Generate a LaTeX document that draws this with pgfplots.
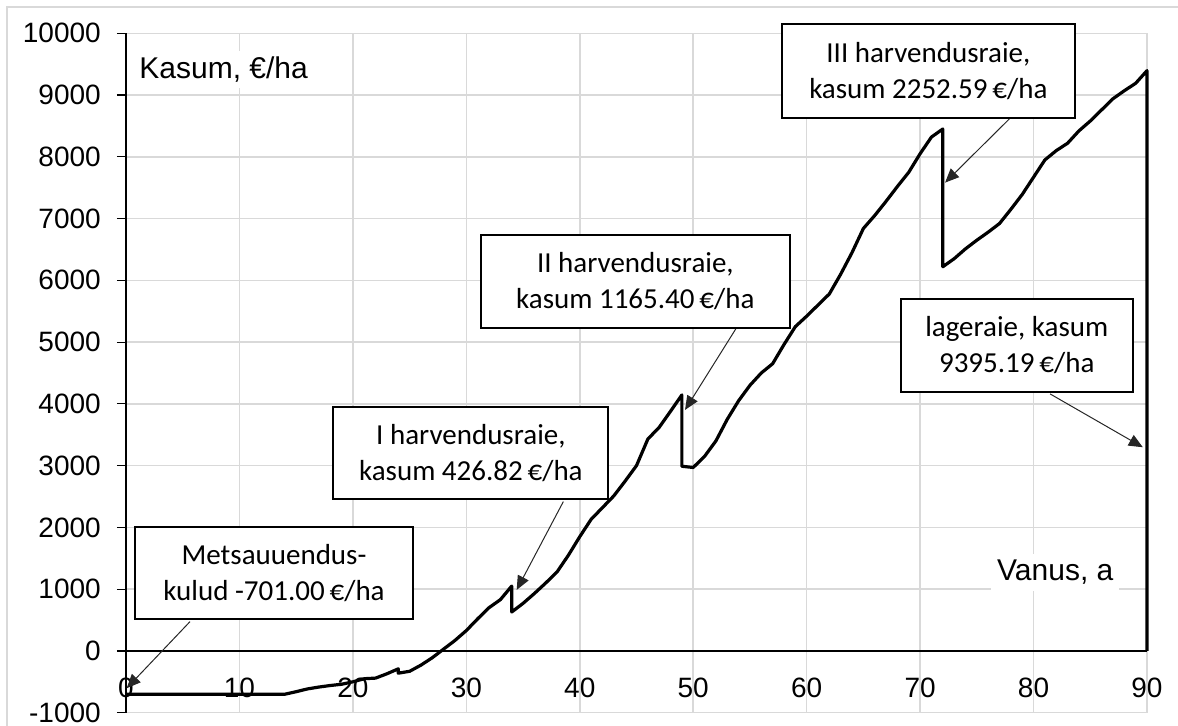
\documentclass[border=0pt]{standalone}
\usepackage{fontspec}
\setmainfont{Liberation Sans}
\newfontfamily\calibri{Carlito}
\usepackage{pgfplots}
\pgfplotsset{compat=1.18}
\usetikzlibrary{arrows.meta}
\definecolor{gridgray}{RGB}{217,217,217}
\begin{document}
\begin{tikzpicture}
\useasboundingbox (-63pt,-6.65pt) rectangle (526pt,356.35pt);
\draw[gridgray, line width=1pt] (-59.5pt,-8pt) -- (-59.5pt,352.85pt) -- (530pt,352.85pt);
\begin{axis}[
  scale only axis, width=510.5pt, height=339.7pt,
  xmin=0, xmax=90, ymin=-1000, ymax=10000,
  axis line style={draw=none},
  grid=major, grid style={gridgray, line width=0.75pt},
  xtick={0,10,...,90}, ytick={-1000,0,...,10000},
  scaled ticks=false,
  xtick pos=bottom, ytick pos=left,
  tick align=outside,
  major tick length=4.5pt,
  x tick style={draw=none},
  y tick style={black, line width=0.6pt},
  ticklabel style={font=\fontsize{14}{16}\selectfont},
  xticklabel style={anchor=center, yshift=16.9pt},
  yticklabel style={anchor=east, xshift=-4.6pt},
  /pgf/number format/1000 sep={},
  /pgf/number format/assume math mode=true,
  clip=false,
]
\draw[black, line width=0.6pt] (axis cs:0,-1000) -- (axis cs:0,10000);
\draw[black, line width=0.6pt] (axis cs:0,0) -- (axis cs:90,0);
\addplot[black, line width=1.6pt, line join=round] coordinates {
(0,-701) (14,-701) (15,-660) (16,-615) (17,-585) (18,-560) (19,-540) (20,-500)
(21,-450) (22,-440) (23,-370) (24,-290) (24,-360) (25,-330) (26,-230) (27,-110)
(28,30) (29,170) (30,330) (31,520) (32,700) (33,830) (34,1050) (34,630)
(35,770) (36,930) (37,1100) (38,1280) (39,1550) (40,1850) (41,2130) (42,2320)
(43,2510) (44,2750) (45,3000) (46,3430) (47,3620) (48,3880) (49,4145) (49,2990)
(50,2970) (51,3150) (52,3400) (53,3750) (54,4050) (55,4300) (56,4500) (57,4650)
(58,4960) (59,5250) (60,5420) (61,5600) (62,5780) (63,6100) (64,6450) (65,6840)
(66,7050) (67,7280) (68,7520) (69,7750) (70,8050) (71,8320) (72,8450) (72,6220)
(73,6350) (74,6510) (75,6650) (76,6780) (77,6920) (78,7150) (79,7390) (80,7670)
(81,7950) (82,8100) (83,8220) (84,8420) (85,8580) (86,8760) (87,8940) (88,9070)
(89,9190) (90,9395) (90,0)
};
\node[anchor=base west, fill=white, inner sep=3pt, font=\fontsize{15}{18}\selectfont] at (axis cs:0.62,9272) {Kasum, €/ha};
\node[anchor=base west, fill=white, inner sep=3pt, font=\fontsize{15}{18}\selectfont] at (axis cs:76.23,1133) {Vanus, a};
\tikzset{callout/.style={draw=black, line width=1pt, fill=white, align=center, inner sep=0pt, font=\calibri\fontsize{14.5}{18}\selectfont},
  arr/.style={black!85, line width=0.5pt, -{Triangle[length=7pt,width=6pt]}}}
\draw[arr] (axis cs:5.64,474) -- (axis cs:0.06,-604);
\draw[arr] (axis cs:38.55,2417) -- (axis cs:34.44,988);
\draw[arr] (axis cs:53.75,5213) -- (axis cs:49.28,3902);
\draw[arr] (axis cs:78.22,8678) -- (axis cs:72.20,7582);
\draw[arr] (axis cs:81.46,4161) -- (axis cs:89.63,3298);
\node[callout, minimum width=139pt, minimum height=46pt] at (axis cs:13.05,1263) {Metsauuendus-\\kulud -701.00\,€/ha};
\node[callout, minimum width=137.5pt, minimum height=46.3pt] at (axis cs:30.4,3206) {I harvendusraie,\\kasum 426.82\,€/ha};
\node[callout, minimum width=154.5pt, minimum height=46.3pt] at (axis cs:44.9,5985) {II harvendusraie,\\kasum 1165.40\,€/ha};
\node[callout, minimum width=146.7pt, minimum height=46.7pt] at (axis cs:70.73,9390) {III harvendusraie,\\kasum 2252.59\,€/ha};
\node[callout, minimum width=116pt, minimum height=46.2pt] at (axis cs:78.52,4946) {lageraie, kasum\\9395.19\,€/ha};
\end{axis}
\end{tikzpicture}
\end{document}
